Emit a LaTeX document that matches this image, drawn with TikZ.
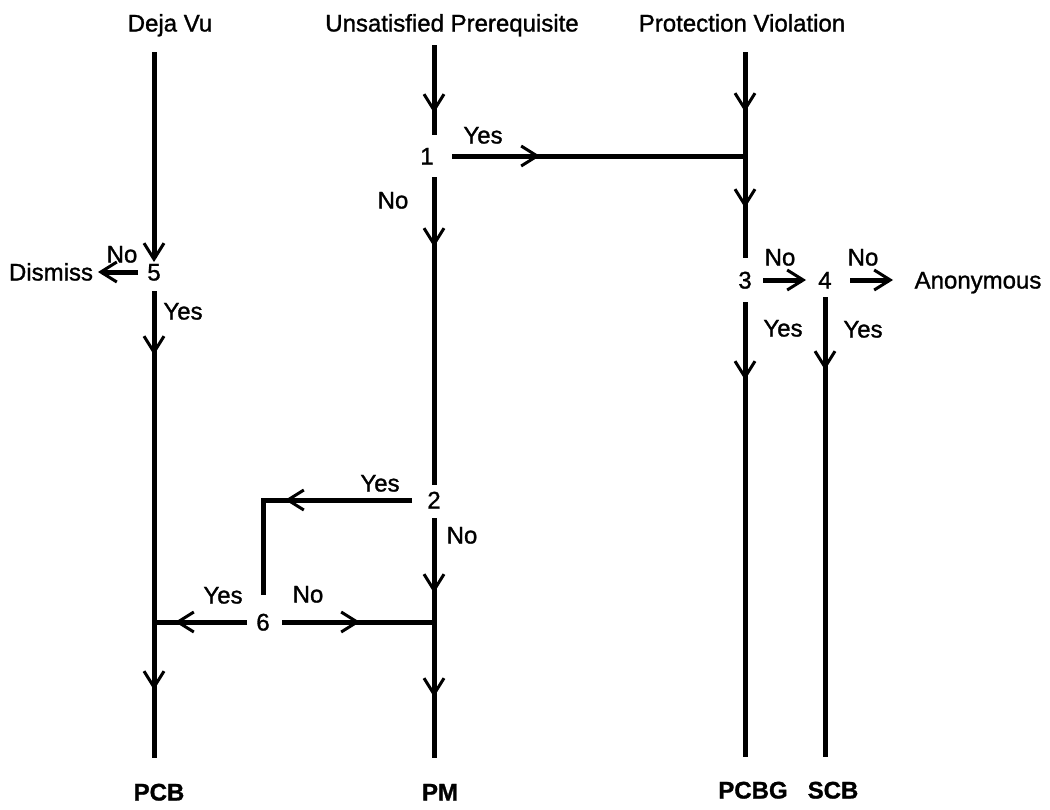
\documentclass[tikz,border=0pt]{standalone}
\usepackage{fontspec}
\setmainfont{Liberation Sans}[UprightFeatures={FakeBold=1.2}, BoldFeatures={FakeBold=1.2}]
\usetikzlibrary{arrows.meta,decorations.markings}
\tikzset{
  chev/.tip={Straight Barb[length=16pt,width=20pt,line width=3pt]},
  txt/.style={inner sep=0pt, text height=17pt, text depth=0pt, font=\fontsize{24}{28}\selectfont},
  endlbl/.style={txt, font=\fontsize{24}{28}\selectfont\bfseries},
  flow/.style={line width=5pt},
  chevone/.style={postaction={decorate}, decoration={markings, mark=at position #1 with {\arrow{chev}}}},
  chevtwo/.style 2 args={postaction={decorate}, decoration={markings, mark=at position #1 with {\arrow{chev}}, mark=at position #2 with {\arrow{chev}}}},
}
\begin{document}
\begin{tikzpicture}[x=1pt,y=-1pt]
\useasboundingbox (0,0) rectangle (1050,809);
% titles and terminals
\node[txt] (dv) at (170,23) {Deja Vu};
\node[txt] (up) at (452,23) {Unsatisfied Prerequisite};
\node[txt] (pv) at (742,23) {Protection Violation};
\node[txt] (dismiss) at (51,272) {Dismiss};
\node[txt] (anon) at (978,280) {Anonymous};
\node[endlbl] (pcb) at (159,792) {PCB};
\node[endlbl] (pm) at (440,792) {PM};
\node[endlbl] (pcbg) at (753,790) {PCBG};
\node[endlbl] (scb) at (833,790) {SCB};
% decision numbers
\node[txt] (n5) at (154,272) {5};
\node[txt] (n1) at (427,156) {1};
\node[txt] (n2) at (434,500) {2};
\node[txt] (n6) at (263,622) {6};
\node[txt] (n3) at (745,280) {3};
\node[txt] (n4) at (825,280) {4};
% branch labels
\node[txt] (l5no) at (122,254) {No};
\node[txt] (l5yes) at (183,311) {Yes};
\node[txt] (l1yes) at (483,135) {Yes};
\node[txt] (l1no) at (393,200) {No};
\node[txt] (l2yes) at (380,483) {Yes};
\node[txt] (l2no) at (462,535) {No};
\node[txt] (l6yes) at (223,595) {Yes};
\node[txt] (l6no) at (308,594) {No};
\node[txt] (l3no) at (780,257) {No};
\node[txt] (l4no) at (863,257) {No};
\node[txt] (l3yes) at (783,328) {Yes};
\node[txt] (l4yes) at (863,329) {Yes};
\coordinate (j1) at (n3.center |- n1.center);
% connectors
\draw[flow, -{chev}, shorten <=29pt, shorten >=10pt] (n5.center |- dv.center) -- (n5.center);
\draw[flow, -{chev}, shorten <=16pt, shorten >=47pt] (n5.center) -- (n5.center -| dismiss.center);
\draw[flow, chevtwo={83pt}{418pt}, shorten <=19pt, shorten >=34pt] (n5.center) -- (n5.center |- pcb.center);
\draw[flow, chevone=90pt, shorten <=22pt, shorten >=21pt] (n2.center |- up.center) -- (n2.center |- n1.center);
\draw[flow, chevone=113pt, shorten <=25pt] (n1.center) -- (j1);
\draw[flow, chevtwo={89pt}{185pt}, shorten <=29pt, shorten >=22pt] (n3.center |- pv.center) -- (n3.center);
\draw[flow, chevone=91pt, shorten <=21pt, shorten >=15pt] (n2.center |- n1.center) -- (n2.center);
\draw[flow, chevone=149pt, shorten <=22pt, shorten >=27pt] (n2.center) -- (n2.center -| n6.center) -- (n6.center);
\draw[flow, chevtwo={93pt}{197pt}, shorten <=18pt, shorten >=34pt] (n2.center) -- (n2.center |- pm.center);
\draw[flow, chevone=88pt, shorten <=16pt] (n6.center) -- (n6.center -| n5.center);
\draw[flow, chevone=97pt, shorten <=19pt] (n6.center) -- (n6.center -| n2.center);
\draw[flow, -{chev}, shorten <=18pt, shorten >=19pt] (n3.center) -- (n4.center);
\draw[flow, -{chev}, shorten <=25pt, shorten >=85pt] (n4.center) -- (n4.center -| anon.center);
\draw[flow, chevone=100pt, shorten <=22pt, shorten >=33pt] (n3.center) -- (n3.center |- pcbg.center);
\draw[flow, chevone=90pt, shorten <=17pt, shorten >=33pt] (n4.center) -- (n4.center |- scb.center);
\end{tikzpicture}
\end{document}
